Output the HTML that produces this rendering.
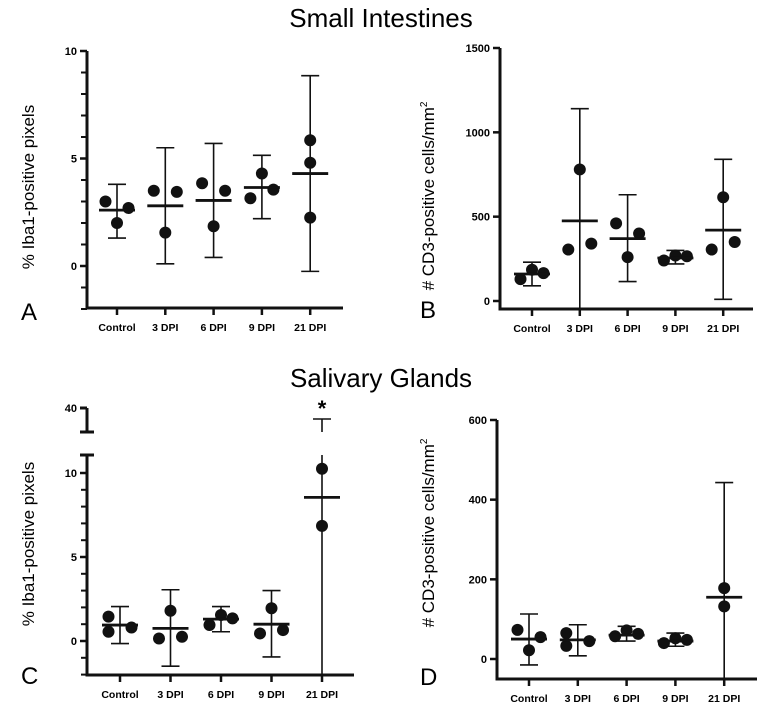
<!DOCTYPE html>
<html><head><meta charset="utf-8"><style>
html,body{margin:0;padding:0;background:#fff;}
svg{display:block;font-family:"Liberation Sans",Arial,sans-serif;}
</style></head><body>
<svg id="fig" width="763" height="712" viewBox="0 0 763 712">
<text x="381" y="27" text-anchor="middle" font-size="26">Small Intestines</text>
<text x="381" y="387" text-anchor="middle" font-size="26">Salivary Glands</text>
</svg>
<script>
const categories = ["Control","3 DPI","6 DPI","9 DPI","21 DPI"];
// Panel A
const aMeans = [2.6, 2.8, 3.05, 3.65, 4.3];
const aLow = [1.3, 0.1, 0.4, 2.2, -0.25];
const aHigh = [3.8, 5.5, 5.7, 5.15, 8.85];
const aPoints = [[3.0,2.0,2.7],[3.5,1.55,3.45],[3.85,1.85,3.5],[3.15,4.3,3.55],[5.85,4.8,2.25]];
const aJitter = [[-1,0,1],[-1,0,1],[-1,0,1],[-1,0,1],[0,0,0]];
const aTicks = [0,5,10];
// Panel B
const bMeans = [160, 475, 370, 255, 420];
const bLow = [90, -100, 115, 220, 10];
const bHigh = [230, 1140, 630, 300, 840];
const bPoints = [[130,185,165],[305,780,340],[460,260,400],[240,270,265],[305,615,350]];
const bJitter = [[-1,0,1],[-1,0,1],[-1,0,1],[-1,0,1],[-1,0,1]];
const bTicks = [0,500,1000,1500];
// Panel C
const cMeans = [0.95, 0.75, 1.3, 1.0, 8.55];
const cLow = [-0.15, -1.5, 0.55, -0.95, -5];
const cHigh = [2.05, 3.05, 2.05, 3.0, 39];
const cPoints = [[1.45,0.55,0.8],[0.15,1.8,0.25],[0.95,1.55,1.35],[0.45,1.95,0.65],[10.25,6.85]];
const cJitter = [[-1,-1,1],[-1,0,1],[-1,0,1],[-1,0,1],[0,0]];
const cTicks = [0,5,10];
// Panel D
const dMeans = [50, 48, 60, 45, 155];
const dLow = [-15, 8, 45, 32, -100];
const dHigh = [113, 86, 82, 65, 443];
const dPoints = [[73,22,55],[65,33,45],[57,72,63],[40,52,48],[178,132]];
const dJitter = [[-1,0,1],[-1,-1,1],[-1,0,1],[-1,0,1],[0,0]];
const dTicks = [0,200,400,600];

const NS = "http://www.w3.org/2000/svg";
const svg = document.getElementById("fig");
function mk(tag, attrs, parent){
  const e = document.createElementNS(NS, tag);
  for (const k in attrs) e.setAttribute(k, attrs[k]);
  (parent||svg).appendChild(e);
  return e;
}
function line(g,x1,y1,x2,y2,w){ return mk("line",{x1:x1,y1:y1,x2:x2,y2:y2,stroke:"#111","stroke-width":w},g); }

function panel(cfg){
  const g = mk("g",{});
  
  
  const y = cfg.y;
  const xs = i => cfg.x0 + i*cfg.step;
  if (cfg.brk){
    const a1 = line(g,cfg.ax,cfg.brk.top,cfg.ax,cfg.brk.bot,3);
    
    
    line(g,cfg.ax-7,cfg.brk.top,cfg.ax,cfg.brk.top,3);
    line(g,cfg.ax-7,cfg.brk.bot,cfg.ax+7,cfg.brk.bot,3);
    line(g,cfg.ax-7,cfg.brk.low,cfg.ax+7,cfg.brk.low,3);
    const tl = mk("text",{x:cfg.ax-10,y:cfg.brk.top+4,"text-anchor":"end","font-size":11,"font-weight":"bold"},g);
    tl.textContent = "40";
    
    
  }
  const ya = line(g,cfg.ax,cfg.brk?cfg.brk.low:y(cfg.ymax),cfg.ax,cfg.axBot,3);
  
  
  const xa = line(g,cfg.ax-1.5,cfg.axBot,cfg.axEnd,cfg.axBot,3);
  
  
  if (cfg.minor){
    for (let v=cfg.minor[0]; v<=cfg.minor[1]; v++) line(g,cfg.ax-6,y(v),cfg.ax,y(v),2);
  }
  cfg.ticks.forEach(v=>{
    line(g,cfg.ax-7,y(v),cfg.ax,y(v),2.5);
    const t = mk("text",{x:cfg.ax-10,y:y(v)+4,"text-anchor":"end","font-size":11,"font-weight":"bold"},g);
    t.textContent = v;
    
    
  });
  categories.forEach((c,i)=>{
    line(g,xs(i),cfg.axBot,xs(i),cfg.axBot+7,2.5);
    const t = mk("text",{x:xs(i),y:cfg.axBot+23,"text-anchor":"middle","font-size":10.5,"font-weight":"bold"},g);
    t.textContent = c;
    
    
  });
  const yt = mk("text",{x:0,y:0,"text-anchor":"middle","font-size":17,transform:`translate(${cfg.ytx},${cfg.yty}) rotate(-90)`},g);
  yt.innerHTML = cfg.ytitle;
  
  
  const lt = mk("text",{x:cfg.lx,y:cfg.ly,"font-size":24},g);
  lt.textContent = cfg.letter;
  
  
  const clip = v => Math.min(cfg.axBot, v);
  categories.forEach((c,i)=>{
    const x = xs(i);
    const lo = clip(y(cfg.low[i]));
    let hiY;
    if (cfg.brk && cfg.high[i] > cfg.brkVal){
      hiY = cfg.brk.yUp(cfg.high[i]);
      line(g,x,hiY,x,cfg.brk.bot,1.6);
      line(g,x,cfg.brk.low,x,lo,1.6);
    } else {
      hiY = y(cfg.high[i]);
      const eb = line(g,x,hiY,x,lo,1.6);
      
      
    }
    line(g,x-9,hiY,x+9,hiY,1.6);
    if (lo < cfg.axBot) line(g,x-9,lo,x+9,lo,1.6);
    cfg.points[i].forEach((v,j)=>{
      const p = mk("circle",{cx:x+cfg.jit[i][j]*11.5,cy:y(v),r:6,fill:"#111"},g);
      
      
    });
    const m = line(g,x-18,y(cfg.means[i]),x+18,y(cfg.means[i]),2.8);
    
    
  });
  return g;
}

panel({name:"panel-a-iba1-intestine", letter:"A", lx:21, ly:320,
  y:v=>266-v*21.5, ymax:10, ax:87, axBot:308, axEnd:343, x0:117, step:48.3,
  ticks:aTicks, minor:[-2,10], means:aMeans, low:aLow, high:aHigh, points:aPoints, jit:aJitter,
  ytitle:"% Iba1-positive pixels", ytx:34, yty:187});
panel({name:"panel-b-cd3-intestine", letter:"B", lx:420, ly:318,
  y:v=>301-v*253/1500, ymax:1500, ax:500, axBot:309, axEnd:753, x0:532, step:47.8,
  ticks:bTicks, means:bMeans, low:bLow, high:bHigh, points:bPoints, jit:bJitter,
  ytitle:"# CD3-positive cells/mm<tspan font-size='10' dy='-7'>2</tspan>", ytx:434, yty:196});
panel({name:"panel-c-iba1-salivary", letter:"C", lx:21, ly:684,
  y:v=>641-v*16.8, ymax:11, ax:87, axBot:675, axEnd:354, x0:120, step:50.5,
  brk:{top:408, bot:432, low:455, yUp:v=>408+(40-v)*11}, brkVal:11.1,
  ticks:cTicks, minor:[-2,10], means:cMeans, low:cLow, high:cHigh, points:cPoints, jit:cJitter,
  ytitle:"% Iba1-positive pixels", ytx:34, yty:544});
panel({name:"panel-d-cd3-salivary", letter:"D", lx:420, ly:685,
  y:v=>659-v*239/600, ymax:600, ax:497, axBot:679, axEnd:757, x0:529, step:48.8,
  ticks:dTicks, means:dMeans, low:dLow, high:dHigh, points:dPoints, jit:dJitter,
  ytitle:"# CD3-positive cells/mm<tspan font-size='10' dy='-7'>2</tspan>", ytx:434, yty:533});
const star = mk("text",{x:322,y:416,"text-anchor":"middle","font-size":22,"font-weight":"bold"});
star.textContent = "*";


</script>
</body></html>
